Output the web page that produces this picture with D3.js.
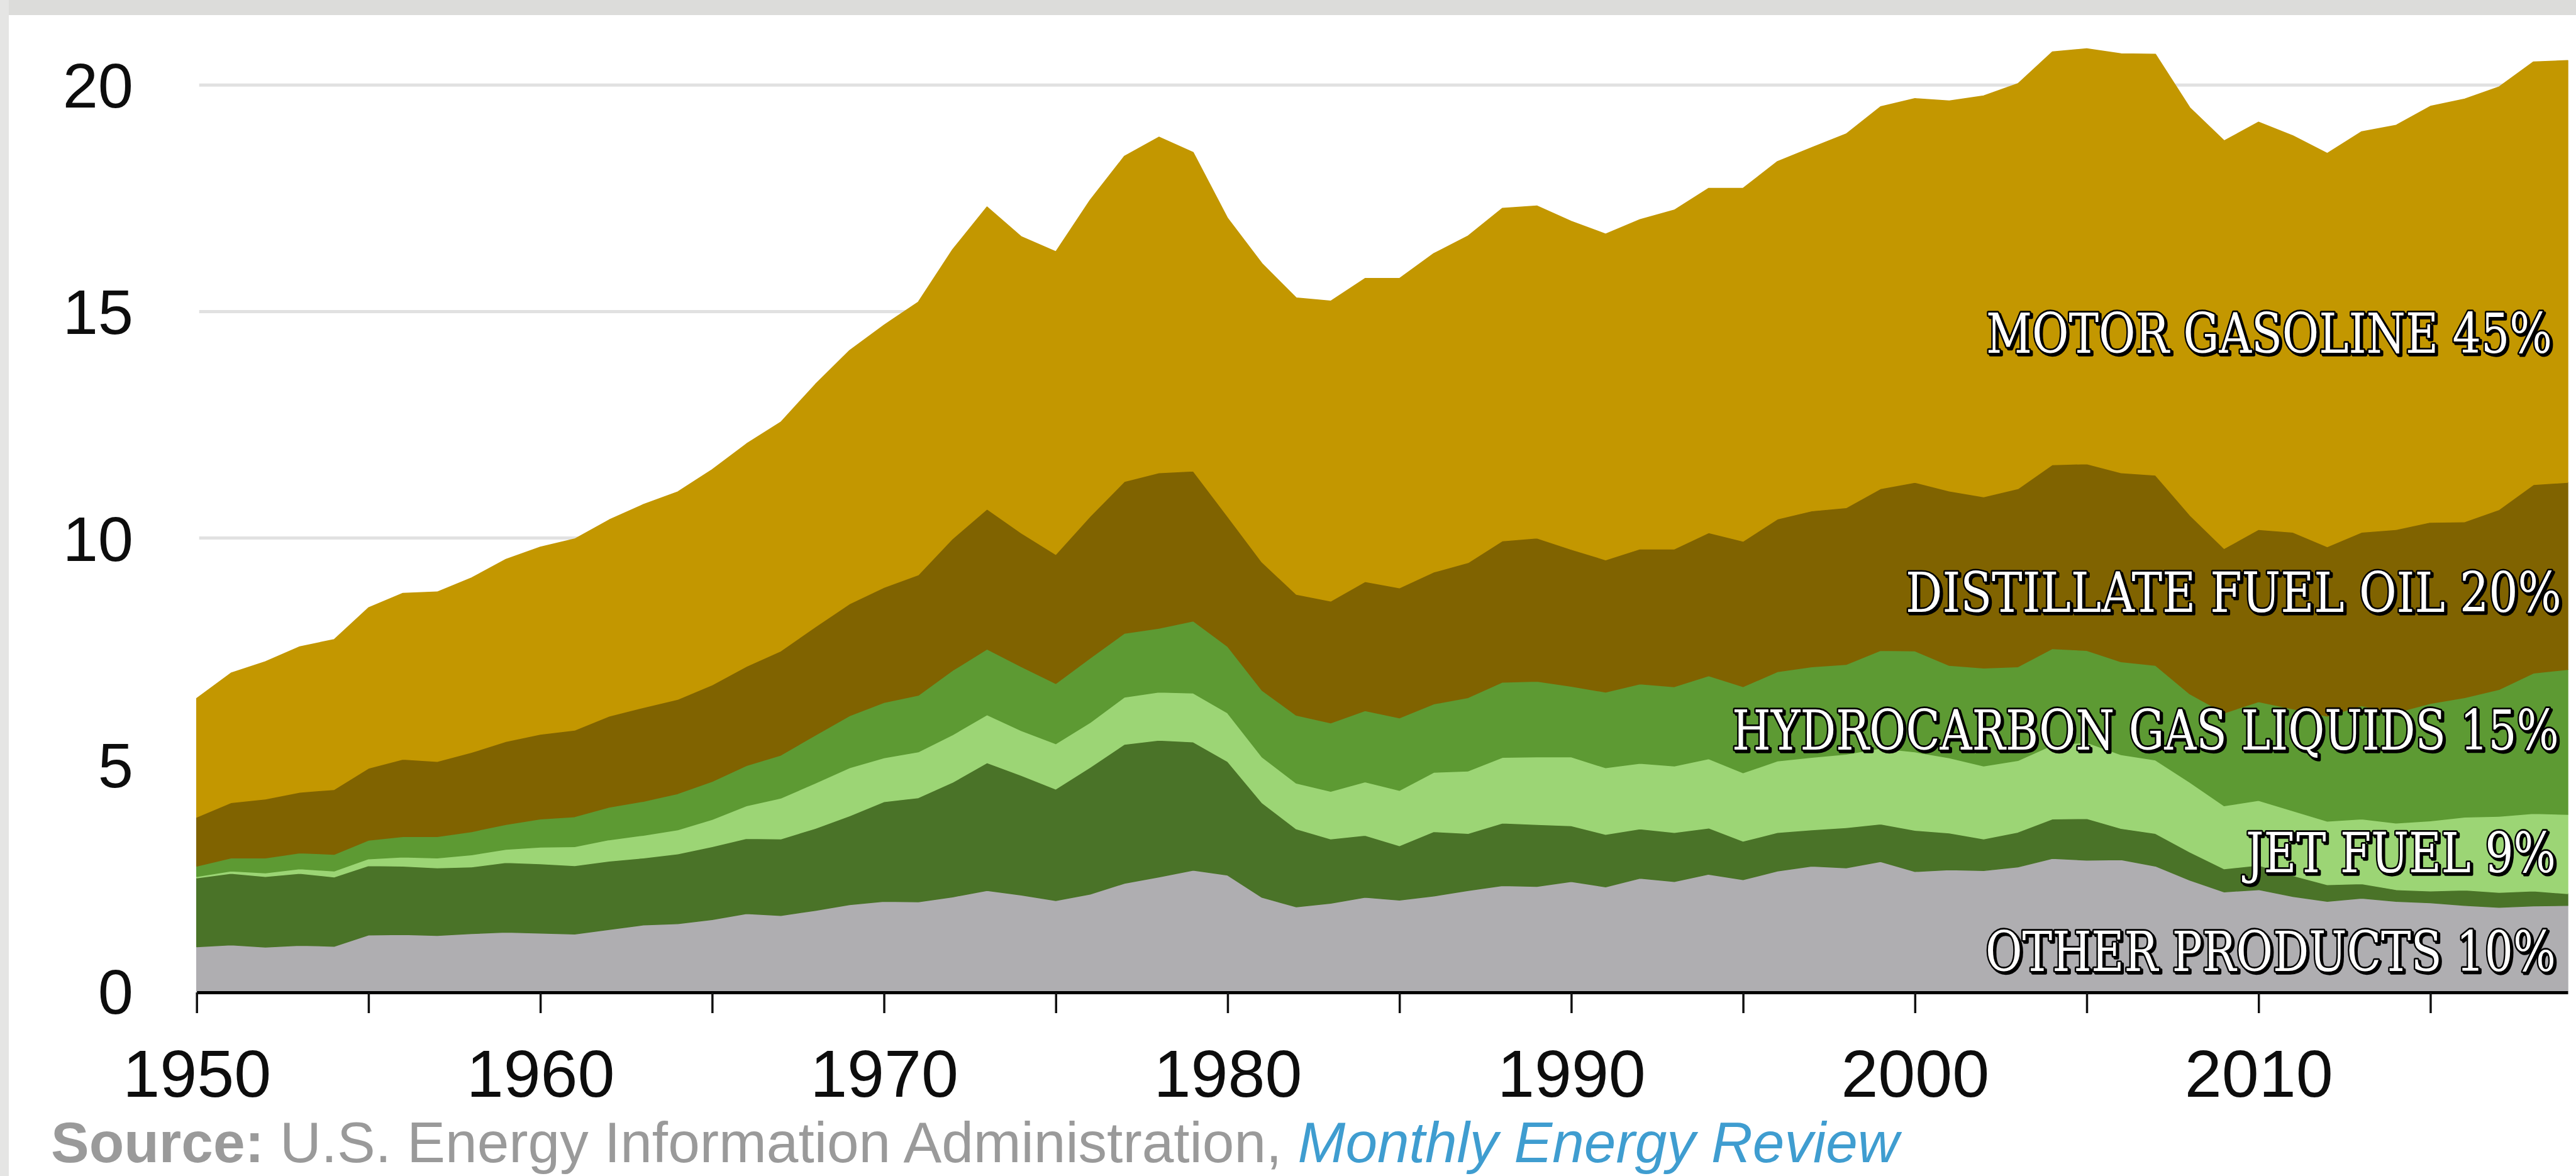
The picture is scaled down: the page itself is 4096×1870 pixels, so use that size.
<!DOCTYPE html>
<html>
<head>
<meta charset="utf-8">
<script src="https://cdn.jsdelivr.net/npm/d3@7"></script>
<style>
  html, body { margin: 0; padding: 0; background: #ffffff; }
  svg { display: block; }
</style>
</head>
<body>
<svg id="chart" width="4096" height="1870"></svg>
<script>
// ---------------- DATA (million barrels per day) ----------------
const years = [1950,1951,1952,1953,1954,1955,1956,1957,1958,1959,
  1960,1961,1962,1963,1964,1965,1966,1967,1968,1969,
  1970,1971,1972,1973,1974,1975,1976,1977,1978,1979,
  1980,1981,1982,1983,1984,1985,1986,1987,1988,1989,
  1990,1991,1992,1993,1994,1995,1996,1997,1998,1999,
  2000,2001,2002,2003,2004,2005,2006,2007,2008,2009,
  2010,2011,2012,2013,2014,2015,2016,2017,2018,2019];

const otherProducts = [0.98,1.02,0.97,1.01,0.99,1.24,1.25,1.23,1.27,1.30,
  1.28,1.26,1.36,1.46,1.49,1.58,1.71,1.67,1.78,1.91,
  1.98,1.97,2.08,2.22,2.12,2.00,2.14,2.38,2.52,2.67,
  2.56,2.07,1.86,1.94,2.07,2.01,2.10,2.22,2.33,2.31,
  2.42,2.30,2.49,2.42,2.58,2.46,2.65,2.76,2.72,2.86,
  2.64,2.68,2.66,2.74,2.93,2.89,2.90,2.76,2.45,2.19,
  2.24,2.09,1.98,2.05,1.98,1.95,1.89,1.85,1.88,1.89];

const residualFuel = [1.52,1.58,1.56,1.59,1.53,1.53,1.51,1.49,1.47,1.54,
  1.53,1.51,1.51,1.48,1.54,1.61,1.66,1.69,1.81,1.96,
  2.20,2.30,2.53,2.82,2.64,2.46,2.80,3.07,3.02,2.83,
  2.51,2.09,1.72,1.42,1.37,1.20,1.42,1.26,1.38,1.37,
  1.23,1.16,1.09,1.08,1.02,0.85,0.85,0.80,0.89,0.83,
  0.91,0.81,0.70,0.77,0.87,0.92,0.69,0.72,0.62,0.51,
  0.54,0.46,0.37,0.32,0.26,0.26,0.34,0.33,0.33,0.26];

const jetFuel = [0.03,0.05,0.08,0.10,0.13,0.15,0.20,0.22,0.27,0.29,
  0.37,0.42,0.47,0.50,0.53,0.60,0.72,0.90,1.00,1.06,
  0.97,1.01,1.05,1.06,0.99,1.00,0.99,1.04,1.06,1.08,
  1.07,1.01,1.01,1.05,1.18,1.22,1.31,1.38,1.45,1.49,
  1.52,1.47,1.45,1.47,1.53,1.51,1.58,1.60,1.62,1.67,
  1.73,1.66,1.61,1.58,1.63,1.68,1.63,1.62,1.54,1.39,
  1.43,1.43,1.40,1.43,1.47,1.55,1.61,1.68,1.71,1.75];

const hydrocarbonGasLiquids = [0.23,0.29,0.33,0.35,0.37,0.41,0.45,0.47,0.51,0.55,
  0.62,0.66,0.72,0.75,0.80,0.84,0.89,0.95,1.06,1.15,
  1.22,1.25,1.42,1.45,1.41,1.33,1.42,1.41,1.41,1.59,
  1.47,1.47,1.50,1.51,1.57,1.60,1.51,1.62,1.66,1.67,
  1.56,1.67,1.75,1.75,1.83,1.90,1.97,2.00,1.98,2.16,
  2.23,2.04,2.16,2.07,2.13,2.03,2.05,2.09,1.95,2.05,
  2.18,2.25,2.32,2.50,2.44,2.59,2.64,2.80,3.10,3.20];

const distillateFuel = [1.08,1.22,1.30,1.34,1.43,1.59,1.71,1.66,1.75,1.83,
  1.87,1.91,2.01,2.07,2.08,2.13,2.19,2.30,2.39,2.47,
  2.54,2.66,2.91,3.09,2.95,2.85,3.13,3.35,3.43,3.31,
  2.87,2.83,2.67,2.69,2.85,2.87,2.91,2.98,3.12,3.16,
  3.02,2.92,2.98,3.04,3.16,3.21,3.37,3.44,3.46,3.57,
  3.72,3.85,3.78,3.93,4.06,4.12,4.17,4.20,3.95,3.63,
  3.80,3.90,3.74,3.83,4.04,4.00,3.88,3.97,4.16,4.13];

const motorGasoline = [2.62,2.86,3.03,3.21,3.31,3.54,3.66,3.74,3.85,4.02,
  4.13,4.22,4.33,4.48,4.58,4.75,4.91,5.05,5.35,5.59,
  5.79,6.02,6.38,6.67,6.54,6.68,6.98,7.18,7.41,7.03,
  6.58,6.59,6.54,6.62,6.69,6.83,7.03,7.21,7.34,7.33,
  7.24,7.19,7.27,7.48,7.60,7.79,7.89,8.02,8.25,8.43,
  8.47,8.61,8.85,8.94,9.11,9.16,9.25,9.29,8.99,9.00,
  8.99,8.75,8.68,8.84,8.92,9.18,9.33,9.33,9.33,9.31];

const seriesKeys = ["other","residual","jet","hgl","distillate","gasoline"];
const yTickValues = [0,5,10,15,20];
const xTickValues = [1950,1955,1960,1965,1970,1975,1980,1985,1990,1995,2000,2005,2010,2015];
const xLabelYears = [1950,1960,1970,1980,1990,2000,2010];

const labelTexts = ["OTHER PRODUCTS 10%","JET FUEL 9%","HYDROCARBON GAS LIQUIDS 15%","DISTILLATE FUEL OIL  20%","MOTOR GASOLINE 45%"];
const labelValues = [0.44, 2.62, 5.33, 8.37, 14.09];   // baseline level, in the chart's units

const sourceParts = ["Source:", " U.S. Energy Information Administration, ", "Monthly Energy Review"];

// ---------------- STYLE / LAYOUT ----------------
const W = 4096, H = 1870;
const colors = {
  other: "#afaeb1", residual: "#4a7328", jet: "#9cd575",
  hgl: "#5d9a33", distillate: "#806300", gasoline: "#c39700"
};
const labelWidths = [907, 493, 1315, 1043, 900];
const labelRightPad = [19, 19, 14, 10, 25];

const svg = d3.select("#chart");

// frame bands
svg.append("rect").attr("x",0).attr("y",0).attr("width",W).attr("height",H).attr("fill","#ffffff");
svg.append("rect").attr("x",0).attr("y",0).attr("width",W).attr("height",24).attr("fill","#dcdcda");
svg.append("rect").attr("x",0).attr("y",0).attr("width",14).attr("height",H).attr("fill","#e5e5e4");

const x = d3.scaleLinear().domain([1950, 2019]).range([312.7, 4083]);
const y = d3.scaleLinear().domain([0, 20]).range([1576, 135.2]);

// table for stack
const table = years.map((yr, i) => ({
  year: yr,
  other: otherProducts[i], residual: residualFuel[i], jet: jetFuel[i],
  hgl: hydrocarbonGasLiquids[i], distillate: distillateFuel[i], gasoline: motorGasoline[i]
}));

// gridlines
svg.append("g").selectAll("line")
  .data(yTickValues.filter(v => v > 0))
  .join("line")
  .attr("x1", x(1950) + 4).attr("x2", x(2019))
  .attr("y1", d => y(d)).attr("y2", d => y(d))
  .attr("stroke", "#e1e1e1").attr("stroke-width", 5);

// stacked areas
const stack = d3.stack().keys(seriesKeys)(table);
const area = d3.area()
  .x(d => x(d.data.year))
  .y0(d => y(d[0]))
  .y1(d => y(d[1]))
  .curve(d3.curveLinear);

svg.append("g").selectAll("path")
  .data(stack)
  .join("path")
  .attr("d", area)
  .attr("fill", d => colors[d.key])
  .attr("stroke", d => colors[d.key])
  .attr("stroke-width", 1.5)
  .attr("stroke-linejoin", "round");

// x axis
const xAxis = d3.axisBottom(x)
  .tickValues(xTickValues)
  .tickSize(33)
  .tickSizeOuter(0)
  .tickFormat(d => xLabelYears.includes(d) ? String(d) : "");

const gx = svg.append("g").attr("transform", `translate(0, ${1578})`).call(xAxis);
gx.select(".domain").attr("stroke", "#000").attr("stroke-width", 5);
gx.selectAll(".tick line").attr("stroke", "#111").attr("stroke-width", 3.5);
gx.selectAll(".tick text")
  .attr("y", 166).attr("dy", 0)
  .attr("fill", "#0d0d0d")
  .style("font-family", "'Liberation Sans', Arial, Helvetica, sans-serif")
  .style("font-size", "106px");

// y labels
svg.append("g").selectAll("text")
  .data(yTickValues)
  .join("text")
  .attr("x", 212)
  .attr("y", d => y(d) + 36)
  .attr("text-anchor", "end")
  .attr("fill", "#0d0d0d")
  .style("font-family", "'Liberation Sans', Arial, Helvetica, sans-serif")
  .style("font-size", "101px")
  .text(d => d);

// series labels (white, black outline, serif), horizontally scaled to the reference width
const lab = svg.append("g")
  .style("font-family", "'DejaVu Serif Condensed', 'DejaVu Serif', serif")
  .style("font-stretch", "condensed")
  .style("font-size", "88px")
  .style("white-space", "pre");

labelTexts.forEach((t, i) => {
  const right = x(2019) - labelRightPad[i];
  const left = right - labelWidths[i];
  const by = y(labelValues[i]);
  const shadow = lab.append("text")
    .attr("x", 0).attr("y", 0)
    .attr("fill", "#000").attr("stroke", "#000").attr("stroke-width", 5)
    .attr("stroke-linejoin", "round")
    .text(t);
  const front = lab.append("text")
    .attr("x", 0).attr("y", 0)
    .attr("fill", "#ffffff").attr("stroke", "#000").attr("stroke-width", 5)
    .attr("stroke-linejoin", "round")
    .style("paint-order", "stroke")
    .text(t);
  const natural = front.node().getComputedTextLength() || labelWidths[i];
  const sx = labelWidths[i] / natural;
  shadow.attr("transform", `translate(${left + 3}, ${by + 3}) scale(${sx}, 1)`)
        .attr("stroke-width", 5 / Math.sqrt(sx));
  front.attr("transform", `translate(${left}, ${by}) scale(${sx}, 1)`)
       .attr("stroke-width", 5 / Math.sqrt(sx));
});

// source line
const src = svg.append("text")
  .attr("x", 81).attr("y", 1848)
  .style("font-family", "'Liberation Sans', Arial, Helvetica, sans-serif")
  .style("font-size", "91px")
  .style("white-space", "pre");
src.append("tspan").attr("fill", "#9a9a9a").attr("font-weight", "bold").text(sourceParts[0]);
src.append("tspan").attr("fill", "#9a9a9a").text(sourceParts[1]);
src.append("tspan").attr("fill", "#3f9dd0").attr("font-style", "italic").text(sourceParts[2]);
</script>
</body>
</html>
